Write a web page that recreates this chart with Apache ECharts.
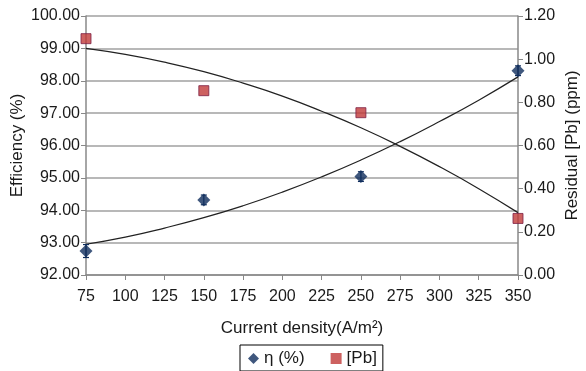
<!DOCTYPE html>
<html>
<head>
<meta charset="utf-8">
<script src="https://cdn.jsdelivr.net/npm/echarts@6/dist/echarts.min.js"></script>
<style>
  html, body { margin: 0; padding: 0; background: #fff; }
  #chart { width: 586px; height: 371px; }
</style>
</head>
<body>
<div id="chart"></div>
<script>
// measured points
const currentDensity = [75, 150, 250, 350];
const efficiency = [92.74, 94.32, 95.04, 98.31];
const efficiencyErr = [0.2, 0.15, 0.15, 0.15];
const residualPb = [1.095, 0.854, 0.752, 0.262];

// trend lines
const trendX = [75, 100, 125, 150, 175, 200, 225, 250, 275, 300, 325, 350];
const effTrend = [92.95, 93.17, 93.45, 93.77, 94.14, 94.56, 95.03, 95.55, 96.12, 96.74, 97.40, 98.12];
const pbTrend = [1.05, 1.022, 0.986, 0.942, 0.889, 0.829, 0.759, 0.682, 0.596, 0.502, 0.40, 0.289];

const chart = echarts.init(document.getElementById('chart'));
const font = 'Liberation Sans, Arial, sans-serif';
const navy = '#0f2d5c';
const red = '#c03a38';
const txt = '#1a1a1a';

const zip = (a, b) => a.map((v, i) => [v, b[i]]);

let options = {
  animation: false,
  textStyle: { fontFamily: font },
  grid: { left: 86, right: 68, top: 16, bottom: 96, outerBoundsMode: 'none', containLabel: false },
  legend: {
    bottom: 0,
    left: 240,
    itemGap: 26,
    itemWidth: 11,
    itemHeight: 11,
    padding: [5, 6, 4, 8],
    borderColor: '#000',
    borderWidth: 1,
    borderRadius: 0,
    itemStyle: { borderWidth: 0 },
    textStyle: { fontSize: 17, color: txt, fontFamily: font },
    data: [
      { name: 'η (%)', icon: 'diamond' },
      { name: '[Pb]', icon: 'rect' }
    ]
  },
  xAxis: {
    type: 'value',
    min: 75, max: 350, interval: 25,
    name: 'Current density(A/m²)',
    nameLocation: 'middle',
    nameGap: 45,
    nameMoveOverlap: false,
    nameTextStyle: { fontSize: 17, color: txt },
    axisLine: { lineStyle: { color: '#888', width: 1.5 } },
    axisTick: { show: true, length: 5, lineStyle: { color: '#888' } },
    axisLabel: { fontSize: 16, color: txt, margin: 14 },
    splitLine: { show: false }
  },
  yAxis: [
    {
      type: 'value',
      min: 92, max: 100, interval: 1,
      name: 'Efficiency (%)',
      nameLocation: 'middle',
      nameGap: 60,
      nameMoveOverlap: false,
      nameTextStyle: { fontSize: 17, color: txt },
      axisLine: { show: true, lineStyle: { color: '#888', width: 1.5 } },
      axisTick: { show: true, length: 5, lineStyle: { color: '#888' } },
      axisLabel: { fontSize: 16, color: txt, margin: 6, formatter: v => v.toFixed(2) },
      splitLine: { show: true, lineStyle: { color: '#a0a0a0', width: 1.5 } }
    },
    {
      type: 'value',
      min: 0, max: 1.2, interval: 0.2,
      name: 'Residual [Pb] (ppm)',
      nameLocation: 'middle',
      nameGap: 46,
      nameRotate: 90,
      nameMoveOverlap: false,
      nameTextStyle: { fontSize: 17, color: txt },
      axisLine: { show: true, lineStyle: { color: '#888', width: 1.5 } },
      axisTick: { show: true, length: 5, lineStyle: { color: '#888' } },
      axisLabel: { fontSize: 16, color: txt, margin: 6, formatter: v => v.toFixed(2) },
      splitLine: { show: false }
    }
  ],
  series: [
    {
      name: 'effTrend',
      type: 'line',
      yAxisIndex: 0,
      smooth: true,
      symbol: 'none',
      lineStyle: { color: '#222', width: 1.2 },
      data: zip(trendX, effTrend),
      z: 2
    },
    {
      name: 'pbTrend',
      type: 'line',
      yAxisIndex: 1,
      smooth: true,
      symbol: 'none',
      lineStyle: { color: '#222', width: 1.2 },
      data: zip(trendX, pbTrend),
      z: 2
    },
    {
      name: 'err',
      type: 'custom',
      yAxisIndex: 0,
      renderItem: (params, api) => {
        const x = api.value(0);
        const hi = api.coord([x, api.value(1) + api.value(2)]);
        const lo = api.coord([x, api.value(1) - api.value(2)]);
        const style = { stroke: navy, lineWidth: 1.2 };
        return {
          type: 'group',
          children: [
            { type: 'line', shape: { x1: hi[0], y1: hi[1], x2: lo[0], y2: lo[1] }, style },
            { type: 'line', shape: { x1: hi[0] - 3, y1: hi[1], x2: hi[0] + 3, y2: hi[1] }, style },
            { type: 'line', shape: { x1: lo[0] - 3, y1: lo[1], x2: lo[0] + 3, y2: lo[1] }, style }
          ]
        };
      },
      data: currentDensity.map((x, i) => [x, efficiency[i], efficiencyErr[i]]),
      z: 3
    },
    {
      name: 'η (%)',
      type: 'scatter',
      yAxisIndex: 0,
      symbol: 'diamond',
      symbolSize: [13, 13],
      itemStyle: { color: navy },
      data: zip(currentDensity, efficiency),
      z: 4
    },
    {
      name: '[Pb]',
      type: 'scatter',
      yAxisIndex: 1,
      symbol: 'rect',
      symbolSize: 10,
      itemStyle: { color: red, borderColor: '#7d1f44', borderWidth: 1 },
      data: zip(currentDensity, residualPb),
      z: 4
    }
  ]
};

chart.setOption(options);
</script>
</body>
</html>
